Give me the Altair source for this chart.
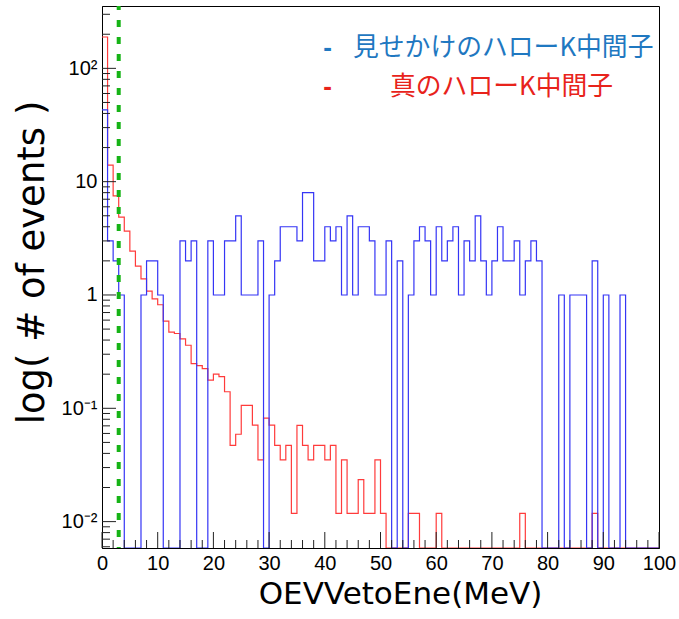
import altair as alt
import pandas as pd

# 1 MeV bins, low edges 0..99
bin_low_edges = list(range(0, 100))

# Fake halo-K candidates (event counts per bin)
fake_halo_k = [43, 3, 2, 1, 0, 0, 0, 1, 2, 2,
               1, 0, 0, 0, 3, 2, 3, 0, 0, 3,
               1, 1, 3, 3, 5, 1, 1, 1, 3, 0,
               1, 2, 4, 4, 4, 3, 8, 8, 2, 2,
               4, 3, 4, 1, 5, 1, 4, 4, 3, 1,
               1, 3, 0, 2, 0, 1, 3, 4, 3, 1,
               4, 2, 3, 4, 1, 3, 2, 5, 2, 1,
               2, 4, 2, 2, 3, 1, 2, 3, 2, 0,
               0, 0, 1, 0, 1, 1, 1, 0, 2, 0,
               1, 0, 0, 1, 0, 0, 0, 0, 0, 0]

# True halo-K (weighted events per bin)
true_halo_k = [189, 14.0, 7.5, 4.86, 3.66, 2.44, 1.80, 1.39, 1.08, 0.925,
               0.82, 0.587, 0.47, 0.457, 0.41, 0.36, 0.248, 0.238, 0.224, 0.177,
               0.2, 0.19, 0.14, 0.047, 0.059, 0.106, 0.106, 0.071, 0.035, 0.082,
               0.071, 0.047, 0.035, 0.047, 0.0118, 0.0706, 0.047, 0.035, 0.047, 0.047,
               0.035, 0.047, 0.0118, 0.035, 0.0118, 0.0118, 0.0235, 0.0118, 0.0118, 0.035,
               0.0118, 0, 0, 0, 0, 0.0118, 0.0118, 0, 0, 0,
               0.0118, 0, 0, 0, 0, 0, 0, 0, 0, 0,
               0, 0, 0, 0, 0, 0.0118, 0, 0, 0, 0,
               0, 0, 0, 0, 0, 0, 0, 0, 0.0118, 0,
               0, 0, 0, 0, 0, 0, 0, 0, 0, 0]

# Energy cut shown as dashed line (MeV)
veto_cut = [3]

x_tick_labels = list(range(0, 101, 10))
y_tick_values = [0.01, 0.1, 1, 10, 100]

W, H = 557, 542
Y_MIN, Y_MAX = 0.00585, 355


def step_frame(values, name):
    edges = bin_low_edges + [100]
    vals = list(values) + [values[-1]]
    return pd.DataFrame({"edge": edges, "count": vals, "series": name})


hist_df = pd.concat([step_frame(true_halo_k, "true"),
                     step_frame(fake_halo_k, "fake")], ignore_index=True)

xscale = alt.Scale(domain=[0, 100], nice=False, zero=False)
yscale = alt.Scale(type="log", domain=[Y_MIN, Y_MAX], nice=False)

x_axis = alt.Axis(values=x_tick_labels, ticks=False, grid=False, labelFlush=False,
                  labelOverlap=False, labelFont="Liberation Sans", labelFontSize=20,
                  labelColor="black", labelPadding=5, domainColor="black",
                  title="OEVVetoEne(MeV)", titleFont="DejaVu Sans", titleFontSize=31,
                  titleFontWeight="normal", titleColor="black", titleX=298, titleY=55,
                  titleAlign="center", titleBaseline="alphabetic")

y_label_expr = ("datum.value >= 99 ? '10²' : datum.value >= 9 ? '10' : "
                "datum.value >= 0.9 ? '1' : datum.value >= 0.09 ? '10⁻¹' : '10⁻²'")
y_axis = alt.Axis(values=y_tick_values, ticks=False, grid=False, labelFlush=False,
                  labelOverlap=False, labelExpr=y_label_expr, labelFont="Liberation Sans",
                  labelFontSize=20, labelColor="black", labelPadding=5,
                  domainColor="black", title="log( # of events )", titleFont="DejaVu Sans",
                  titleFontSize=37, titleFontWeight="normal", titleColor="black",
                  titleAngle=270, titleX=-70, titleY=256, titleAlign="center",
                  titleBaseline="middle")


def hist_layer(series, color):
    return alt.Chart(hist_df).transform_filter(
        alt.datum.series == series
    ).transform_calculate(
        shown=f"max(datum.count, {Y_MIN})"
    ).mark_line(interpolate="step-after", strokeWidth=1.2, color=color, clip=True).encode(
        x=alt.X("edge:Q", scale=xscale, axis=x_axis),
        y=alt.Y("shown:Q", scale=yscale, axis=y_axis),
        order="edge:Q",
    )


red_hist = hist_layer("true", "#ff3b3b")
blue_hist = hist_layer("fake", "#3535f5")

# Inward ticks on the x axis (major every 10, minor every 2)
x_major = pd.DataFrame({"v": list(range(0, 101, 10))})
x_minor = pd.DataFrame({"v": [v for v in range(0, 101, 2) if v % 10]})
x_major_ticks = alt.Chart(x_major).mark_rule(color="#222", strokeWidth=1).encode(
    x=alt.X("v:Q", scale=xscale), y=alt.value(H), y2=alt.value(H - 16))
x_minor_ticks = alt.Chart(x_minor).mark_rule(color="#222", strokeWidth=1).encode(
    x=alt.X("v:Q", scale=xscale), y=alt.value(H), y2=alt.value(H - 8))

# Inward ticks on the log y axis
y_minor_vals = [m * d for d in [0.001, 0.01, 0.1, 1, 10, 100] for m in range(2, 10)
                if Y_MIN <= m * d <= Y_MAX]
y_major_ticks = alt.Chart(pd.DataFrame({"v": y_tick_values})).mark_rule(
    color="#222", strokeWidth=1).encode(
    y=alt.Y("v:Q", scale=yscale), x=alt.value(0), x2=alt.value(14))
y_minor_ticks = alt.Chart(pd.DataFrame({"v": y_minor_vals})).mark_rule(
    color="#222", strokeWidth=1).encode(
    y=alt.Y("v:Q", scale=yscale), x=alt.value(0), x2=alt.value(8))

cut_line = alt.Chart(pd.DataFrame({"cut": veto_cut})).mark_rule(
    color="#16b316", strokeWidth=4, strokeDash=[7, 10], strokeDashOffset=3).encode(
    x=alt.X("cut:Q", scale=xscale), y=alt.value(0), y2=alt.value(H))

# Legend entries
legend_font = "Noto Sans CJK JP"
legend_rows = [
    ("見せかけのハローK中間子", "#1f78c1", 251, 41.5),
    ("真のハローK中間子", "#e8231b", 288, 81),
]
legend_layers = []
for label, color, lx, ly in legend_rows:
    legend_layers.append(
        alt.Chart(pd.DataFrame({"t": ["-"]})).mark_text(
            font="Liberation Sans", fontSize=26, fontWeight="bold", color=color,
            align="center", baseline="middle"
        ).encode(text="t:N", x=alt.value(225.5), y=alt.value(ly)))
    legend_layers.append(
        alt.Chart(pd.DataFrame({"t": [label]})).mark_text(
            font=legend_font, fontSize=25.8, color=color, align="left", baseline="middle"
        ).encode(text="t:N", x=alt.value(lx), y=alt.value(ly)))

chart = alt.layer(
    red_hist, blue_hist, cut_line,
    x_major_ticks, x_minor_ticks, y_major_ticks, y_minor_ticks,
    *legend_layers,
).properties(
    width=W, height=H,
    autosize=alt.AutoSizeParams(type="none"),
    padding={"left": 102, "top": 6, "right": 20, "bottom": 71},
    background="white",
).configure_view(stroke="black", strokeWidth=1)

chart.save("out.html", embed_options={"renderer": "svg", "actions": False})
